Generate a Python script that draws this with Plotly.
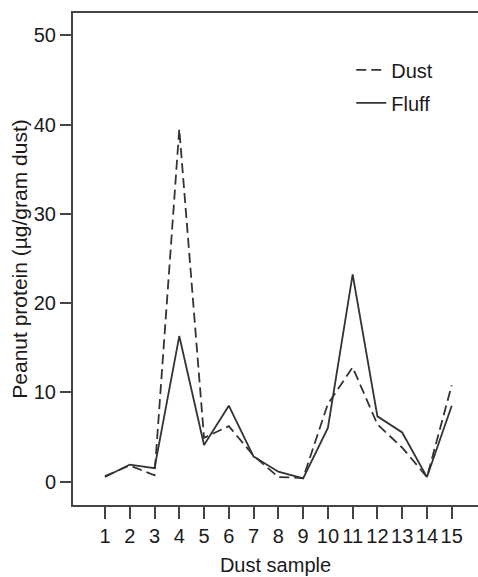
import plotly.graph_objects as go

samples = list(range(1, 16))
dust = [0.6, 1.8, 0.7, 39.5, 4.9, 6.2, 2.9, 0.5, 0.4, 8.7, 12.8, 6.4, 3.8, 0.5, 10.8]
fluff = [0.5, 1.9, 1.5, 16.3, 4.1, 8.5, 2.8, 1.1, 0.35, 6.0, 23.2, 7.3, 5.5, 0.5, 8.5]
y_ticks = [0, 10, 20, 30, 40, 50]

FONT = "Liberation Sans, Arial, sans-serif"
LINE = "#333333"

fig = go.Figure()
fig.add_trace(go.Scatter(x=samples, y=dust, mode="lines", name="Dust",
                         line=dict(color=LINE, width=1.8, dash="10px,5px"),
                         legendgroup="a"))
fig.add_trace(go.Scatter(x=samples, y=fluff, mode="lines", name="Fluff",
                         line=dict(color=LINE, width=1.8),
                         legendgroup="b"))

fig.update_layout(
    width=478, height=577,
    margin=dict(l=73, r=0, t=13, b=72),
    paper_bgcolor="white", plot_bgcolor="white",
    font=dict(family=FONT, size=20, color="#1a1a1a"),
    showlegend=True,
    legend=dict(x=0.687, y=0.924, xanchor="left", yanchor="top",
                bgcolor="rgba(0,0,0,0)", itemwidth=30,
                tracegroupgap=4, font=dict(size=20)),
    xaxis=dict(range=[-0.29, 16.06], tickvals=samples, ticktext=[str(s) for s in samples],
               showgrid=False, zeroline=False, showline=True, linecolor="#444444",
               linewidth=2, mirror=True, ticks="outside", ticklen=12, tickwidth=1.5,
               tickcolor="#444444", title=dict(text="Dust sample", font=dict(size=20), standoff=12)),
    yaxis=dict(range=[-2.63, 52.5], tickvals=y_ticks, showgrid=False, zeroline=False,
               showline=True, linecolor="#444444", linewidth=2, ticks="outside",
               ticklen=11, tickwidth=1.5, tickcolor="#444444",
               title=dict(text="Peanut protein (µg/gram dust)", font=dict(size=21), standoff=0)),
)

fig.write_html("out.html")
